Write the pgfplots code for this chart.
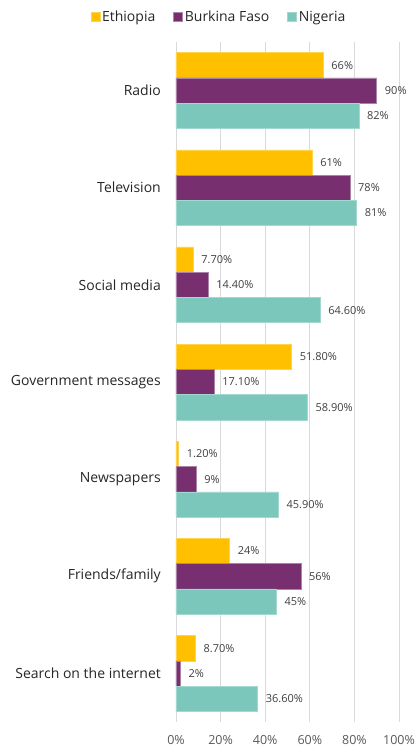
\documentclass[border=0pt]{standalone}
\usepackage{pgfplots}
\pgfplotsset{compat=1.18}
\usepackage{fontspec}
\setmainfont{Open Sans}
\definecolor{eth}{HTML}{FFC000}
\definecolor{bf}{HTML}{772F6F}
\definecolor{ng}{HTML}{7CC7BB}
\definecolor{gridc}{HTML}{D9D9D9}
\definecolor{lbl}{HTML}{404040}
\definecolor{txt}{HTML}{262626}
\definecolor{tck}{HTML}{595959}
\begin{document}
\begin{tikzpicture}
\begin{axis}[
  scale only axis, width=223pt, height=680pt,
  xbar, bar width=0.26, bar shift=0pt,
  xmin=0, xmax=100, ymin=-0.5, ymax=6.5,
  xtick={0,20,40,60,80,100},
  xticklabels={0\%,20\%,40\%,60\%,80\%,100\%},
  ytick={0,1,2,3,4,5,6},
  yticklabels={Search on the internet,Friends/family,Newspapers,Government messages,Social media,Television,Radio},
  axis line style={draw=none},
  major tick length=0pt, tick style={draw=none},
  xmajorgrids, grid style={gridc, line width=0.8pt},
  xticklabel style={inner sep=0pt, anchor=north, yshift=-13.5pt, font=\fontsize{12.5}{14}\selectfont, text=tck},
  yticklabel style={inner sep=0pt, anchor=east, xshift=-15pt, font=\fontsize{14}{16}\selectfont, text=txt},
  point meta=explicit symbolic,
  nodes near coords,
  every node near coord/.append style={anchor=west, inner sep=0pt, xshift=8pt, font=\fontsize{11}{13}\selectfont, text=lbl},
  legend style={draw=none, fill=none, at={(0.193,1.0368)}, anchor=center,
    legend columns=3, font=\fontsize{14}{16}\selectfont, text=txt,
    /tikz/every even column/.append style={column sep=16pt},
    nodes={inner sep=2pt}},
  legend image code/.code={\fill[#1] (0pt,-4.5pt) rectangle (9pt,4.5pt);},
  clip=false,
]
\addplot[fill=eth, draw=eth!70!white, line width=0.5pt] coordinates {
  (66,6.26) [66\%]
  (61,5.26) [61\%]
  (7.7,4.26) [7.70\%]
  (51.8,3.26) [51.80\%]
  (1.2,2.26) [1.20\%]
  (24,1.26) [24\%]
  (8.7,0.26) [8.70\%]
};
\addplot[fill=bf, draw=bf!60!white, line width=0.5pt] coordinates {
  (90,6) [90\%]
  (78,5) [78\%]
  (14.4,4) [14.40\%]
  (17.1,3) [17.10\%]
  (9,2) [9\%]
  (56,1) [56\%]
  (2,0) [2\%]
};
\addplot[fill=ng, draw=ng!70!white, line width=0.5pt] coordinates {
  (82,5.74) [82\%]
  (81,4.74) [81\%]
  (64.6,3.74) [64.60\%]
  (58.9,2.74) [58.90\%]
  (45.9,1.74) [45.90\%]
  (45,0.74) [45\%]
  (36.6,-0.26) [36.60\%]
};
\legend{Ethiopia,Burkina Faso,Nigeria}
\coordinate (O) at (rel axis cs:0,0);
\end{axis}
\path (O) ++(-176pt,-25pt) rectangle ++(413pt,747pt);
\end{tikzpicture}
\end{document}
